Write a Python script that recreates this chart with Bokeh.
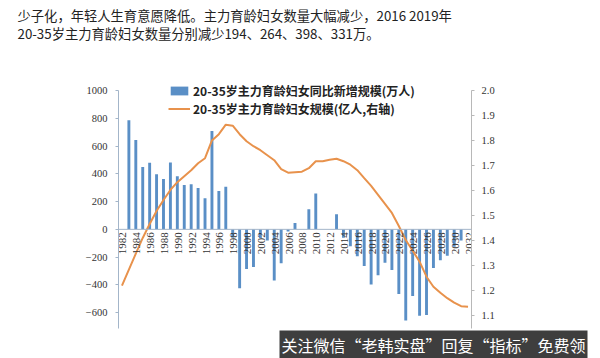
import math
from bokeh.plotting import figure
from bokeh.layouts import column
from bokeh.models import (Range1d, LinearAxis, FixedTicker, PrintfTickFormatter,
                          Title, Legend, LegendItem, Span)
from bokeh.core.properties import value
from bokeh.embed import file_html
from bokeh.resources import INLINE

# ---------------- data ----------------
years = list(range(1982, 2033))
bar_years = list(range(1983, 2032))
bar_values = [785, 644, 448, 479, 396, 362, 482, 382, 319, 324,
              298, 224, 709, 276, 307, -60, -425, -286, -272, -62,
              -80, -368, -244, -15, 45, 0, 145, 258, 0, 0,
              108, -60, -122, -194, -264, -398, -331, -240, -292, -465,
              -656, -480, -623, -617, -279, -222, -190, -125, -80]
line_values = [1.219, 1.283, 1.347, 1.410, 1.466, 1.518, 1.562, 1.602, 1.633, 1.657,
               1.681, 1.709, 1.729, 1.800, 1.825, 1.863, 1.859, 1.825, 1.797, 1.777,
               1.761, 1.741, 1.721, 1.685, 1.671, 1.673, 1.675, 1.689, 1.717, 1.717,
               1.723, 1.727, 1.717, 1.703, 1.681, 1.649, 1.618, 1.582, 1.546, 1.510,
               1.458, 1.402, 1.359, 1.315, 1.255, 1.215, 1.191, 1.169, 1.151, 1.137,
               1.135]
label_years = list(range(1982, 2033, 2))
left_ticks = [-800, -600, -400, -200, 0, 200, 400, 600, 800, 1000]
right_ticks = [1.0, 1.1, 1.2, 1.3, 1.4, 1.5, 1.6, 1.7, 1.8, 1.9, 2.0]

title_lines = ["少子化，年轻人生育意愿降低。主力育龄妇女数量大幅减少，2016 2019年",
               "20-35岁主力育龄妇女数量分别减少194、264、398、331万。"]
bar_name = "20-35岁主力育龄妇女同比新增规模(万人)"
line_name = "20-35岁主力育龄妇女规模(亿人,右轴)"
watermark = "关注微信“老韩实盘”回复“指标”免费领"

BAR_COLOR = "#5a8fc6"
LINE_COLOR = "#e8924c"
AXIS_COLOR = "#a3b5c9"
W = 600
HEADER_H = 44

# ---------------- header ----------------
head = figure(width=W, height=HEADER_H, output_backend="svg", toolbar_location=None,
              x_range=Range1d(0, W), y_range=Range1d(HEADER_H, 0),
              x_axis_location=None, y_axis_location=None, min_border=0)
head.frame_align = False
head.outline_line_color = None
head.grid.visible = False
head.text(x=[17, 17], y=[15, 33], text=title_lines, text_baseline="middle",
          text_align="left", text_font=value("Noto Sans CJK SC"),
          text_font_size="13.3px", text_color="#222222")

# ---------------- main chart ----------------
# frame: x 118..471, page y 80..329 ; value 1000 at y=90, -800 at y=341
PX = 251.0
FRAME_TOP = 80
top_extra = (90 - FRAME_TOP) / PX
bot_cut = 12.0 / PX
p = figure(width=W, height=358 - HEADER_H, output_backend="svg", toolbar_location=None,
           x_range=Range1d(1981.5, 2032.5),
           y_range=Range1d(-800 + 1800 * bot_cut, 1000 + 1800 * top_extra),
           x_axis_location=None,
           min_border_left=118, min_border_right=129,
           min_border_top=FRAME_TOP - HEADER_H, min_border_bottom=29)
p.frame_align = False
p.outline_line_color = None
p.grid.visible = False

p.extra_y_ranges = {"r": Range1d(1.0 + bot_cut, 2.0 + top_extra)}

la = p.yaxis[0]
la.ticker = FixedTicker(ticks=left_ticks)
la.bounds = (-800, 1000)
la.minor_tick_line_color = None
la.major_tick_out = 3
la.major_tick_in = 0
la.axis_line_color = AXIS_COLOR
la.major_tick_line_color = AXIS_COLOR
la.major_label_text_font = "Liberation Serif"
la.major_label_text_font_size = "10.5px"
la.major_label_text_color = "#333333"
la.major_label_standoff = 8

ra = LinearAxis(y_range_name="r", ticker=FixedTicker(ticks=right_ticks),
                formatter=PrintfTickFormatter(format="%.1f"), bounds=(1.0, 2.0))
ra.minor_tick_line_color = None
ra.major_tick_out = 3
ra.major_tick_in = 0
ra.axis_line_color = "#b8b8b8"
ra.major_tick_line_color = "#b8b8b8"
ra.major_label_text_font = "Liberation Serif"
ra.major_label_text_font_size = "10.5px"
ra.major_label_text_color = "#333333"
ra.major_label_standoff = 7
p.add_layout(ra, "right")

p.add_layout(Span(location=0, dimension="width", line_color=AXIS_COLOR, line_width=1))

bars = p.vbar(x=bar_years, top=bar_values, bottom=0, width=0.42,
              fill_color=BAR_COLOR, line_color=None)
line = p.line(x=years, y=line_values, y_range_name="r", line_color=LINE_COLOR,
              line_width=2)

p.text(x=label_years, y=[0] * len(label_years), text=[str(y) for y in label_years],
       angle=math.pi / 2, text_align="right", text_baseline="middle",
       x_offset=1, y_offset=3, text_font=value("Liberation Serif"),
       text_font_size="11px", text_color="#333333")

# one legend per entry so that the row spacing can be set exactly
for name, rend, loc_y in [(bar_name, bars, 229), (line_name, line, 211)]:
    p.add_layout(Legend(items=[LegendItem(label=name, renderers=[rend])],
                        location=(50, loc_y), orientation="vertical",
                        border_line_color=None, background_fill_alpha=0,
                        padding=0, margin=0, spacing=0, glyph_width=22,
                        glyph_height=11, label_height=11, label_standoff=3,
                        label_text_font="Noto Sans CJK SC",
                        label_text_font_style="bold",
                        label_text_font_size="12px", label_text_color="#222222"))

# watermark strip at the bottom
p.add_layout(Title(text=watermark, align="left", offset=161, standoff=0,
                   text_font="Noto Sans CJK SC", text_font_size="16px",
                   text_font_style="normal", text_color="white",
                   background_fill_color="#2e2e2e", background_fill_alpha=0.92,
                   padding=2), "below")

layout = column(head, p, spacing=0)
open("out.html", "w").write(file_html(layout, INLINE))
